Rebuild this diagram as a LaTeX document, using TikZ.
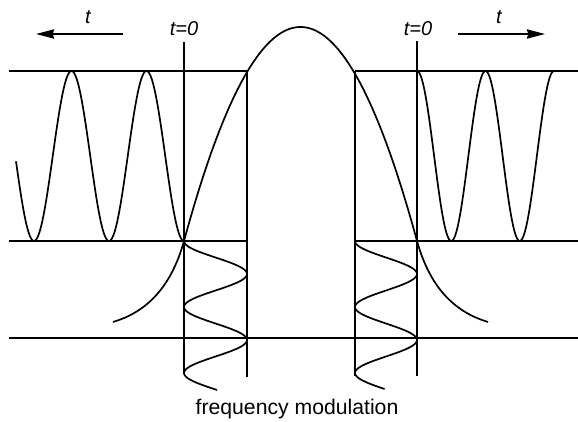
\documentclass[tikz,border=0pt]{standalone}
\usepackage{fontspec}
\setmainfont{Liberation Sans}
\usetikzlibrary{arrows.meta}
\begin{document}
\begin{tikzpicture}[x=0.5pt, y=-0.5pt, line width=0.9pt, >={Stealth[length=9pt, width=4.6pt, inset=0.6pt]},
	wave/.style={line width=0.85pt, line join=round},
	lbl/.style={font=\fontsize{10}{12}\selectfont\itshape, inner sep=0pt}]
	\useasboundingbox (0,0) rectangle (578,422);
	
	% 水平线
	\draw (9,71) -- (247,71);
	\draw (355,71) -- (578,71);
	\draw (9,241) -- (247,241);
	\draw (355,241) -- (578,241);
	\draw (9,338) -- (578,338);
	
	% 竖线 (t=0 与 边界)
	\node[lbl] (tzeroL) at (184,29) {t=0};
	\node[lbl] (tzeroR) at (418,29) {t=0};
	\coordinate (vLtop) at (184,42);
	\coordinate (vLbot) at (184,374);
	\coordinate (vRtop) at (417,41);
	\coordinate (vRbot) at (417,376);
	\draw (vLtop) -- (vLbot);
	\draw (vRtop) -- (vRbot);
	\draw (247,71) -- (247,377);
	\draw (355,71) -- (355,376);
	
	% 时间箭头
	\coordinate (arrLa) at (123,34);
	\coordinate (arrLb) at (36,34);
	\coordinate (arrRa) at (458,34);
	\coordinate (arrRb) at (545,34);
	\draw[->] (arrLa) -- (arrLb);
	\draw[->] (arrRa) -- (arrRb);
	\node[lbl] (tL) at (88,17) {t};
	\node[lbl] (tR) at (499,17) {t};
	
	% 钟形曲线 (上部为抛物线, 两端渐平)
	\draw[wave] (113,322) .. controls (143,313) and (170,291.4) .. (184,241)
		-- plot[domain=184:417, samples=120] (\x, {27+214*((\x-300.5)/116.5)^2})
		.. controls (431,291.4) and (458,313) .. (488,322);
	
	% 左右两侧的振荡
	\draw[wave] plot[domain=16:184, samples=160] (\x, {156+85*cos(4.8*(\x-184))});
	\draw[wave] plot[domain=417:554, samples=140] (\x, {156-85*cos(5.2555*(\x-417))});
	
	% 下方竖向振荡
	\draw[wave] plot[domain=241:390, samples=120] ({215.5-31.5*cos(5.4545*(\x-241))}, \x);
	\draw[wave] plot[domain=241:389, samples=120] ({386-31*cos(5.4545*(\x-241))}, \x);
	
	% 标题
	\node[font=\fontsize{10.6}{13}\selectfont, inner sep=0pt] (caption) at (297,409) {frequency modulation};
\end{tikzpicture}
\end{document}
